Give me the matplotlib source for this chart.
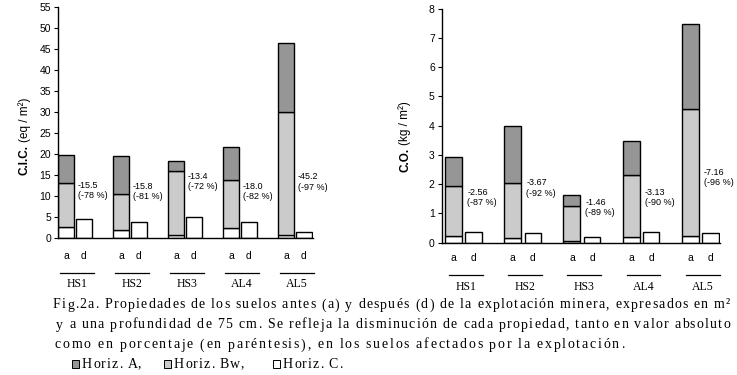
import numpy as np
import matplotlib
matplotlib.use('Agg')
import matplotlib.pyplot as plt
from matplotlib.patches import Rectangle

plt.rcParams['font.family'] = 'Liberation Sans'

# data
sites = ['HS1', 'HS2', 'HS3', 'AL4', 'AL5']

# C.I.C. (eq / m2), "a" = before, stacked C / Bw / A ; "d" = after (only C)
cic_c = [2.6, 1.9, 0.7, 2.4, 0.7]
cic_bw = [10.5, 8.6, 15.3, 11.6, 29.3]
cic_a = [6.7, 9.0, 2.3, 7.7, 16.5]
cic_after = [4.5, 3.8, 5.0, 3.8, 1.4]
cic_diff = ['-15.5', '-15.8', '-13.4', '-18.0', '-45.2']
cic_pct = ['-78', '-81', '-72', '-82', '-97']

# C.O. (kg / m2)
co_c = [0.22, 0.15, 0.05, 0.18, 0.22]
co_bw = [1.71, 1.88, 1.19, 2.12, 4.34]
co_a = [0.99, 1.95, 0.38, 1.17, 2.91]
co_after = [0.36, 0.32, 0.18, 0.35, 0.32]
co_diff = ['-2.56', '-3.67', '-1.46', '-3.13', '-7.16']
co_pct = ['-87', '-92', '-89', '-90', '-96']

# where the difference labels sit (y, data units)
cic_label_y = [11.4, 11.1, 13.5, 11.1, 13.4]
co_label_y = [1.56, 1.87, 1.20, 1.56, 2.24]

col_a = '#969696'
col_bw = '#cbcbcb'
col_c = '#ffffff'

W, H = 737, 375
fig = plt.figure(figsize=(W / 100, H / 100), dpi=100)
renderer = fig.canvas.get_renderer()


def panel(ax, c, bw, a, after, diffs, pcts, label_y, yticks, xlim, wa, d_off, wd,
          line_span, y_ad, y_line, y_name):
    x = np.arange(len(sites))
    kw = dict(align='edge', edgecolor='black', linewidth=1.0)
    ax.bar(x, c, wa, color=col_c, **kw)
    ax.bar(x, bw, wa, bottom=c, color=col_bw, **kw)
    ax.bar(x, a, wa, bottom=np.add(c, bw), color=col_a, **kw)
    ax.bar(x + d_off, after, wd, color=col_c, **kw)

    xt = ax.get_xaxis_transform()
    for i in range(len(sites)):
        ax.text(i + d_off + 0.03, label_y[i], f'{diffs[i]}\n({pcts[i]} %)',
                fontsize=6.5, va='center', ha='left', linespacing=1.15)
        ax.text(i + wa / 2, y_ad, 'a', transform=xt,
                ha='center', va='center', fontsize=7.5)
        ax.text(i + d_off + wd / 2, y_ad, 'd', transform=xt,
                ha='center', va='center', fontsize=7.5)
        ax.plot([i + line_span[0], i + line_span[1]], [y_line, y_line],
                transform=xt, color='black', lw=0.9, clip_on=False)
        ax.text(i + sum(line_span) / 2, y_name, sites[i], transform=xt,
                ha='center', va='center', fontsize=8.5, family='Liberation Serif')

    ax.set_xlim(*xlim)
    ax.set_ylim(yticks[0], yticks[-1])
    ax.set_yticks(yticks)
    ax.set_xticks([])
    for s in ['top', 'right']:
        ax.spines[s].set_visible(False)
    for s in ['left', 'bottom']:
        ax.spines[s].set_linewidth(1.0)
    ax.tick_params(axis='y', direction='out', length=3, width=0.8,
                   labelsize=7.5, pad=2)
    ax.patch.set_alpha(0)


ax1 = fig.add_axes([58 / W, (H - 238.3) / H, 255 / W, 231 / H])
panel(ax1, cic_c, cic_bw, cic_a, cic_after, cic_diff, cic_pct, cic_label_y,
      np.arange(0, 56, 5), (0, 4.636), 0.29, 0.327, 0.29, (0.036, 0.655),
      -17.4 / 231, -35 / 231, -46 / 231)

ax2 = fig.add_axes([441.7 / W, (H - 242.7) / H, 278.3 / W, 234 / H])
panel(ax2, co_c, co_bw, co_a, co_after, co_diff, co_pct, co_label_y,
      np.arange(0, 9, 1), (-0.056, 4.645), 0.287, 0.343, 0.28, (0.068, 0.637),
      -15.3 / 234, -32.6 / 234, -44 / 234)


def ylabel(bold, rest, x, y_bottom):
    t1 = fig.text(x / W, 1 - y_bottom / H, bold, rotation=90, ha='center',
                  va='bottom', fontsize=8.5, fontweight='bold')
    h = t1.get_window_extent(renderer).height
    fig.text(x / W, 1 - (y_bottom - h - 3) / H, rest, rotation=90, ha='center',
             va='bottom', fontsize=8.5)


ylabel('C.I.C.', '(eq / m²)', 25, 175)
ylabel('C.O.', '(kg / m²)', 405, 172)

# caption, with the wide letter spacing of the original
cap_kw = dict(fontsize=10, family='Liberation Serif', va='center', ha='left')


def tracked(text, x0, y, x1=None, extra=1.0):
    probe = fig.text(0, 0, '|', **cap_kw)
    bar_w = probe.get_window_extent(renderer).width
    probe.remove()
    offs = []
    for k in range(len(text) + 1):
        t = fig.text(0, 0, text[:k] + '|', **cap_kw)
        offs.append(t.get_window_extent(renderer).width - bar_w)
        t.remove()
    if x1 is not None:
        extra = (x1 - x0 - offs[-1]) / max(len(text) - 1, 1)
    for k, ch in enumerate(text):
        if ch != ' ':
            fig.text((x0 + offs[k] + k * extra) / W, 1 - y / H, ch, **cap_kw)


tracked('Fig.2a. Propiedades de los suelos antes (a) y después (d) de la '
        'explotación minera, expresados en m²', 53, 305, x1=730)
tracked('y a una profundidad de 75 cm. Se refleja la disminución de cada '
        'propiedad, tanto en valor absoluto', 56, 325, x1=730)
tracked('como en porcentaje (en paréntesis), en los suelos afectados por la '
        'explotación.', 55, 345, x1=624)

legend_items = [('Horiz. A,', col_a, 72), ('Horiz. Bw,', col_bw, 164),
                ('Horiz. C.', col_c, 273)]
for label, col, x0 in legend_items:
    fig.add_artist(Rectangle((x0 / W, 1 - 368 / H), 7 / W, 8 / H,
                             transform=fig.transFigure, facecolor=col,
                             edgecolor='black', linewidth=0.7))
    tracked(label, x0 + 10, 364, extra=1.0)

fig.savefig('out.png', dpi=100)
